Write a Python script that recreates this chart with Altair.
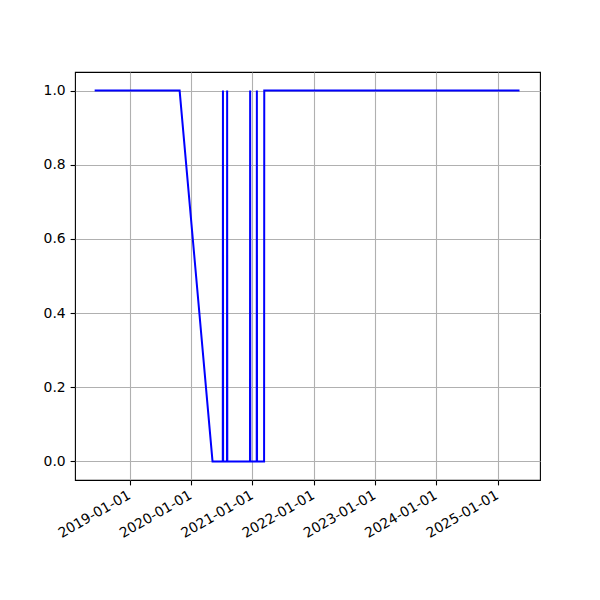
import altair as alt
import pandas as pd

dates = ["2018-06-07", "2019-10-26", "2020-05-09",
         "2020-07-09", "2020-07-10", "2020-07-11",
         "2020-08-03", "2020-08-04", "2020-08-05",
         "2020-12-18", "2020-12-19", "2020-12-20",
         "2021-01-27", "2021-01-28", "2021-01-29",
         "2021-03-12", "2021-03-13", "2025-05-11"]
values = [1, 1, 0,
          0, 1, 0,
          0, 1, 0,
          0, 1, 0,
          0, 1, 0,
          0, 1, 1]
tick_years = [2019, 2020, 2021, 2022, 2023, 2024, 2025]
y_ticks = [0.0, 0.2, 0.4, 0.6, 0.8, 1.0]

df = pd.DataFrame({"date": dates, "value": values})

x_domain = [alt.DateTime(year=2018, month=2, date=10),
            alt.DateTime(year=2025, month=9, date=10)]
x_ticks = [alt.DateTime(year=y, month=1, date=1) for y in tick_years]

chart = alt.Chart(df).mark_line(color="#0000ff", strokeWidth=2, clip=True).encode(
    x=alt.X("date:T", title=None,
            scale=alt.Scale(domain=x_domain, nice=False),
            axis=alt.Axis(values=x_ticks, format="%Y-%m-%d", labelAngle=-30,
                          labelAlign="right", labelBaseline="top",
                          labelFontSize=13.9, labelColor="black", labelFont="DejaVu Sans",
                          labelOverlap=False, labelBound=False, labelOffset=-4,
                          tickColor="black", tickSize=4.9, tickWidth=1.1,
                          labelPadding=3, domain=False,
                          grid=True, gridColor="#b0b0b0", gridWidth=1.1)),
    y=alt.Y("value:Q", title=None,
            scale=alt.Scale(domain=[-0.05, 1.05], nice=False, zero=False),
            axis=alt.Axis(values=y_ticks, format=".1f",
                          labelFontSize=13.9, labelColor="black", labelFont="DejaVu Sans",
                          labelOverlap=False,
                          tickColor="black", tickSize=4.9, tickWidth=1.1,
                          labelPadding=4.9, domain=False,
                          grid=True, gridColor="#b0b0b0", gridWidth=1.1)),
).properties(
    width=465, height=408,
    autosize=alt.AutoSizeParams(type="none"),
    padding={"left": 67, "top": 64, "right": 52, "bottom": 112},
).configure(background="white").configure_view(stroke="black", strokeWidth=1.1)

chart.save("out.html", embed_options={"renderer": "svg", "actions": False})
